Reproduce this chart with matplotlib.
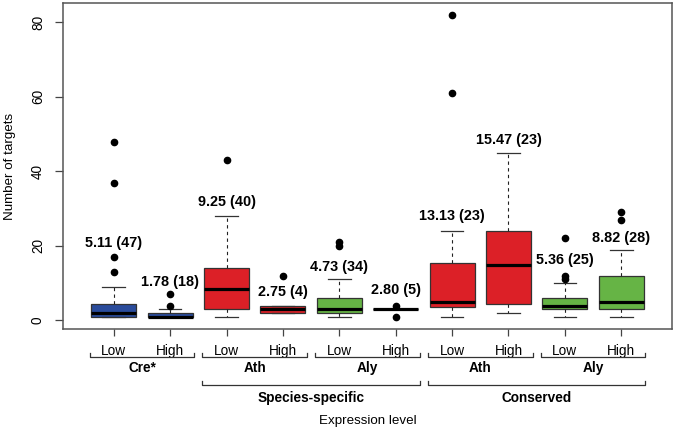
import matplotlib
matplotlib.use("Agg")
import matplotlib.pyplot as plt
from matplotlib.transforms import blended_transform_factory

plt.rcParams['font.family'] = ['Liberation Sans', 'DejaVu Sans']

# box statistics (one entry per box, left to right)
levels = ["Low", "High", "Low", "High", "Low", "High", "Low", "High", "Low", "High"]
q1 = [1, 1, 3, 2, 2, 3, 3.5, 4.5, 3, 3]
med = [2, 1, 8.5, 3, 3, 3, 5, 15, 4, 5]
q3 = [4.5, 2, 14, 4, 6, 3, 15.5, 24, 6, 12]
whis_lo = [1, 1, 1, 2, 1, 3, 1, 2, 1, 1]
whis_hi = [9, 3, 28, 4, 11, 3, 24, 45, 10, 19]
outliers = [[13, 17, 37, 48], [4, 7], [43], [12], [20, 21], [1, 4],
            [61, 82], [], [11, 12, 22], [27, 29]]
box_labels = ["5.11 (47)", "1.78 (18)", "9.25 (40)", "2.75 (4)", "4.73 (34)",
              "2.80 (5)", "13.13 (23)", "15.47 (23)", "5.36 (25)", "8.82 (28)"]
species = ["Cre*", "Ath", "Aly", "Ath", "Aly"]
groups = ["Species-specific", "Conserved"]

# layout (not data): colours per box, heights of the annotations
blue, red, green = "#2A4C9C", "#DC2027", "#66B445"
box_colors = [blue, blue, red, red, green, green, red, red, green, green]
label_y = [20.8, 10.4, 31.9, 7.5, 14.3, 8.1, 28.1, 48.5, 16.2, 22.0]

fig = plt.figure(figsize=(6.75, 4.3), dpi=100)
ax = fig.add_axes([63 / 675, 1 - 329 / 430, 609 / 675, 326 / 430])

pos = list(range(1, len(levels) + 1))
stats = []
for i in range(len(levels)):
    stats.append(dict(q1=q1[i], med=med[i], q3=q3[i], whislo=whis_lo[i],
                      whishi=whis_hi[i], fliers=outliers[i]))

bp = ax.bxp(stats, positions=pos, widths=0.8, capwidths=0.4, patch_artist=True,
            showfliers=True,
            boxprops=dict(edgecolor="#333333", linewidth=0.9),
            medianprops=dict(color="black", linewidth=2.3),
            whiskerprops=dict(color="#222222", linewidth=0.8, linestyle=(0, (3, 3))),
            capprops=dict(color="#333333", linewidth=0.9),
            flierprops=dict(marker="o", markerfacecolor="black",
                            markeredgecolor="black", markersize=4.5))
for patch, c in zip(bp["boxes"], box_colors):
    patch.set_facecolor(c)

for x, y, t in zip(pos, label_y, box_labels):
    ax.text(x, y, t, ha="center", va="center", fontsize=10.4, fontweight="bold")

ax.set_xlim(0.1, 10.9)
ax.set_ylim(-2.3, 85.2)
ax.set_yticks([0, 20, 40, 60, 80])
ax.set_xticks(pos)
ax.set_xticklabels(levels)
ax.tick_params(axis="y", labelrotation=90, length=6, width=0.9, pad=7,
               labelsize=9.8, color="#444444")
ax.tick_params(axis="x", length=5, width=0.9, pad=5.5, labelsize=9.8, color="#444444")
for lab in ax.get_yticklabels():
    lab.set_va("center")
for s in ax.spines.values():
    s.set_color("#555555")
    s.set_linewidth(1.1)

fig.text(10 / 675, 1 - 166 / 430, "Number of targets", rotation=90,
         ha="center", va="center", fontsize=9.6)

# brackets under the axis: x in data units, y in figure pixels
tr = blended_transform_factory(ax.transData, fig.transFigure)


def fy(px):
    return 1 - px / 430


def bracket(x0, x1, ypx, text, ytext, bold=True):
    ax.plot([x0, x0, x1, x1], [fy(ypx - 4), fy(ypx), fy(ypx), fy(ypx - 4)],
            transform=tr, color="#333333", linewidth=0.9, clip_on=False)
    ax.text((x0 + x1) / 2, fy(ytext), text, transform=tr, ha="center",
            va="center", fontsize=9.8, fontweight="bold" if bold else "normal")


for k, name in enumerate(species):
    a, b = pos[2 * k], pos[2 * k + 1]
    bracket(a - 0.43, b + 0.43, 356.5, name, 368)

for k, name in enumerate(groups):
    a, b = pos[2 + 4 * k], pos[5 + 4 * k]
    bracket(a - 0.43, b + 0.43, 385, name, 398)

fig.text((63 + 672) / 2 / 675, fy(421), "Expression level", ha="center",
         va="center", fontsize=9.6)

fig.savefig("out.png", dpi=100)
